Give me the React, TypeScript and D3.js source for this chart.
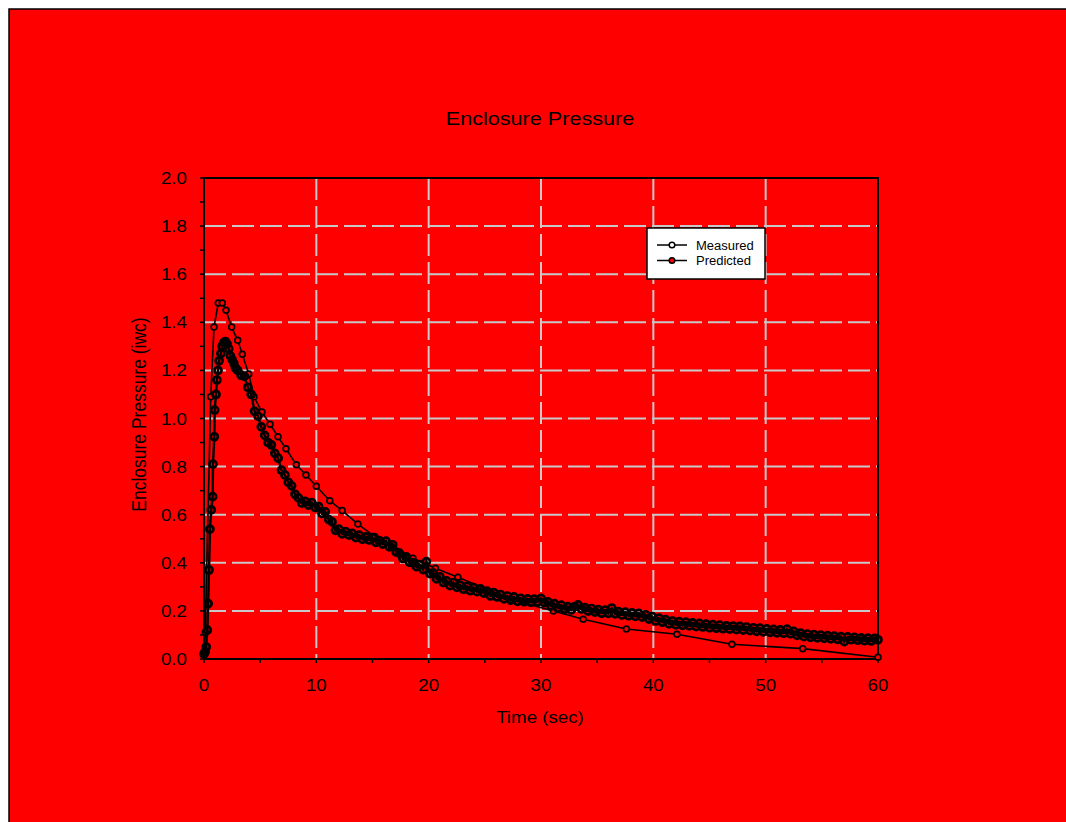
import React from "react";
import * as d3 from "d3";

// ---- data ----
const xTicks = [0, 10, 20, 30, 40, 50, 60];
const xMinorTicks = [5, 15, 25, 35, 45, 55];
const yTicks = [0, 0.2, 0.4, 0.6, 0.8, 1.0, 1.2, 1.4, 1.6, 1.8, 2.0];
const yMinorTicks = [0.1, 0.3, 0.5, 0.7, 0.9, 1.1, 1.3, 1.5, 1.7, 1.9];

// Measured (dense, noisy) – early part with explicit times
const measuredEarlyT = [0, 0.1, 0.2, 0.3, 0.37, 0.45, 0.53, 0.65, 0.77, 0.8, 0.92, 0.95, 1.07, 1.15, 1.25, 1.35, 1.5, 1.6, 1.75, 1.9, 2.05, 2.2, 2.35, 2.5, 2.65, 2.8];
const measuredEarlyP = [0.02, 0.03, 0.05, 0.12, 0.23, 0.37, 0.54, 0.62, 0.675, 0.81, 0.924, 1.035, 1.1, 1.16, 1.2, 1.24, 1.27, 1.3, 1.315, 1.32, 1.31, 1.29, 1.26, 1.245, 1.23, 1.21];
// Measured – sampled every 0.3 s from 3.0 s to 60.0 s
const measuredStart = 3.0;
const measuredStep = 0.3;
const measuredP = [
  1.20, 1.18, 1.175, 1.13, 1.10, 1.03, 1.01, 0.965, 0.93, 0.90,
  0.89, 0.855, 0.835, 0.785, 0.765, 0.735, 0.72, 0.685, 0.67, 0.648,
  0.655, 0.64, 0.65, 0.63, 0.634, 0.605, 0.612, 0.58, 0.57, 0.535,
  0.54, 0.52, 0.53, 0.515, 0.522, 0.505, 0.515, 0.498, 0.508, 0.495,
  0.505, 0.485, 0.492, 0.478, 0.49, 0.466, 0.475, 0.445, 0.44, 0.418,
  0.425, 0.402, 0.40, 0.384, 0.392, 0.372, 0.405, 0.355, 0.358, 0.333,
  0.342, 0.318, 0.325, 0.305, 0.318, 0.298, 0.307, 0.29, 0.302, 0.284,
  0.297, 0.28, 0.292, 0.274, 0.282, 0.262, 0.276, 0.258, 0.268, 0.25,
  0.262, 0.245, 0.258, 0.24, 0.252, 0.238, 0.25, 0.236, 0.249, 0.238,
  0.252, 0.234, 0.238, 0.22, 0.23, 0.212, 0.224, 0.207, 0.218, 0.204,
  0.218, 0.225, 0.208, 0.214, 0.199, 0.21, 0.195, 0.205, 0.19, 0.203,
  0.19, 0.212, 0.188, 0.197, 0.183, 0.195, 0.18, 0.192, 0.177, 0.19,
  0.174, 0.184, 0.166, 0.176, 0.158, 0.17, 0.153, 0.164, 0.146, 0.158,
  0.142, 0.155, 0.14, 0.153, 0.138, 0.15, 0.135, 0.148, 0.133, 0.145,
  0.13, 0.143, 0.128, 0.141, 0.126, 0.138, 0.124, 0.137, 0.122, 0.136,
  0.12, 0.133, 0.118, 0.13, 0.115, 0.128, 0.113, 0.125, 0.111, 0.123,
  0.109, 0.121, 0.107, 0.124, 0.105, 0.115, 0.098, 0.108, 0.093, 0.104,
  0.09, 0.101, 0.088, 0.099, 0.086, 0.097, 0.084, 0.095, 0.082, 0.093,
  0.072, 0.092, 0.08, 0.09, 0.078, 0.088, 0.076, 0.087, 0.075, 0.086, 0.08,
];

// Predicted (sparse, smooth)
const predictedT = [0, 0.12, 0.24, 0.6, 0.89, 1.27, 1.63, 1.96, 2.46, 3.0, 3.41, 3.98, 4.45, 5.16, 5.88, 6.59, 7.3, 8.22, 9.08, 10.0, 11.2, 12.3, 13.7, 15.2, 16.7, 18.6, 20.6, 22.6, 27.5, 31.1, 33.75, 37.6, 42.1, 47.0, 53.3, 60];
const predictedP = [0.02, 0.11, 0.37, 1.09, 1.38, 1.48, 1.48, 1.45, 1.38, 1.325, 1.267, 1.185, 1.09, 1.027, 0.976, 0.924, 0.874, 0.808, 0.765, 0.718, 0.658, 0.617, 0.561, 0.509, 0.467, 0.419, 0.377, 0.34, 0.245, 0.2, 0.165, 0.125, 0.103, 0.061, 0.043, 0.007];

const title = "Enclosure Pressure";
const xLabel = "Time (sec)";
const yLabel = "Enclosure Pressure (iwc)";
const legendLabels = ["Measured", "Predicted"];

type Pt = [number, number];

const SX = 1.15; // horizontal stretch of the original's text

export default function App() {
  const W = 1066;
  const H = 822;
  const left = 204, right = 878, top = 178, bottom = 659;
  const x = d3.scaleLinear().domain([0, 60]).range([left, right]);
  const y = d3.scaleLinear().domain([0, 2]).range([bottom, top]);

  const measured: Pt[] = [
    ...measuredEarlyT.map((t, i) => [t, measuredEarlyP[i]] as Pt),
    ...measuredP.map((p, i) => [measuredStart + i * measuredStep, p] as Pt),
  ];
  const predicted: Pt[] = predictedT.map((t, i) => [t, predictedP[i]] as Pt);

  const line = d3
    .line<Pt>()
    .x((d) => x(d[0]))
    .y((d) => y(d[1]));

  const font = "'Liberation Sans', Arial, sans-serif";
  const gridColor = "#c8c8c8";

  const lgX = 647, lgY = 228, lgW = 118, lgH = 51;

  const T = (tx: number, ty: number) => `translate(${tx},${ty}) scale(${SX},1)`;

  return (
    <svg
      width={W}
      height={H}
      style={{ position: "absolute", left: 0, top: 0, display: "block" }}
      fontFamily={font}
    >
      <rect x={0} y={0} width={W} height={H} fill="#ffffff" />
      <rect x={9} y={9} width={W + 10} height={H + 10} fill="#ff0000" stroke="#000" strokeWidth={1.5} />

      <text transform={T(540, 125)} textAnchor="middle" fontSize={18.8} fill="#000">
        {title}
      </text>

      {/* grid */}
      <g stroke={gridColor} strokeWidth={2} strokeDasharray="22 6" fill="none">
        {xTicks.slice(1, -1).map((t) => (
          <line key={"gx" + t} x1={x(t)} x2={x(t)} y1={top} y2={bottom} />
        ))}
        {yTicks.slice(1, -1).map((t) => (
          <line key={"gy" + t} x1={left} x2={right} y1={y(t)} y2={y(t)} />
        ))}
      </g>

      {/* frame */}
      <rect x={left} y={top} width={right - left} height={bottom - top} fill="none" stroke="#000" strokeWidth={2} />

      {/* ticks */}
      <g stroke="#000" strokeWidth={1.5}>
        {xTicks.concat(xMinorTicks).map((t) => (
          <line key={"tx" + t} x1={x(t)} x2={x(t)} y1={bottom} y2={bottom + 4} />
        ))}
        {yTicks.concat(yMinorTicks).map((t) => (
          <line key={"ty" + t} x1={left - 4} x2={left} y1={y(t)} y2={y(t)} />
        ))}
      </g>

      {/* tick labels */}
      <g fontSize={16.3} fill="#000">
        {xTicks.map((t) => (
          <text key={"lx" + t} transform={T(x(t), 691)} textAnchor="middle">
            {t}
          </text>
        ))}
        {yTicks.map((t) => (
          <text key={"ly" + t} transform={T(187, y(t) + 6)} textAnchor="end">
            {t.toFixed(1)}
          </text>
        ))}
      </g>

      <text transform={T(540, 723)} textAnchor="middle" fontSize={16.3} fill="#000">
        {xLabel}
      </text>
      <text
        transform={`translate(146, 414.5) rotate(-90) scale(1,${SX})`}
        textAnchor="middle"
        fontSize={17.5}
        fill="#000"
      >
        {yLabel}
      </text>

      {/* Predicted series */}
      <path d={line(predicted) || ""} fill="none" stroke="#000" strokeWidth={1.6} />
      {predicted.map((d, i) => (
        <circle key={"pp" + i} cx={x(d[0])} cy={y(d[1])} r={2.9} fill="#ff0000" stroke="#000" strokeWidth={1.7} />
      ))}

      {/* Measured series */}
      <path d={line(measured) || ""} fill="none" stroke="#000" strokeWidth={2.4} />
      {measured.map((d, i) => (
        <circle key={"mp" + i} cx={x(d[0])} cy={y(d[1])} r={3.5} fill="none" stroke="#000" strokeWidth={2.7} />
      ))}

      {/* legend */}
      <rect x={lgX} y={lgY} width={lgW} height={lgH} fill="#ffffff" stroke="#000" strokeWidth={1.5} />
      {legendLabels.map((lab, i) => {
        const ly = 245 + i * 15.5;
        return (
          <g key={lab}>
            <line x1={657} x2={687} y1={ly} y2={ly} stroke="#000" strokeWidth={1.5} />
            <circle cx={672} cy={ly} r={2.8} fill={i === 0 ? "#ffffff" : "#ff0000"} stroke="#000" strokeWidth={1.5} />
            <text transform={`translate(696,${ly + 4.5}) scale(1.04,1)`} fontSize={12.5} fill="#000">
              {lab}
            </text>
          </g>
        );
      })}
    </svg>
  );
}
